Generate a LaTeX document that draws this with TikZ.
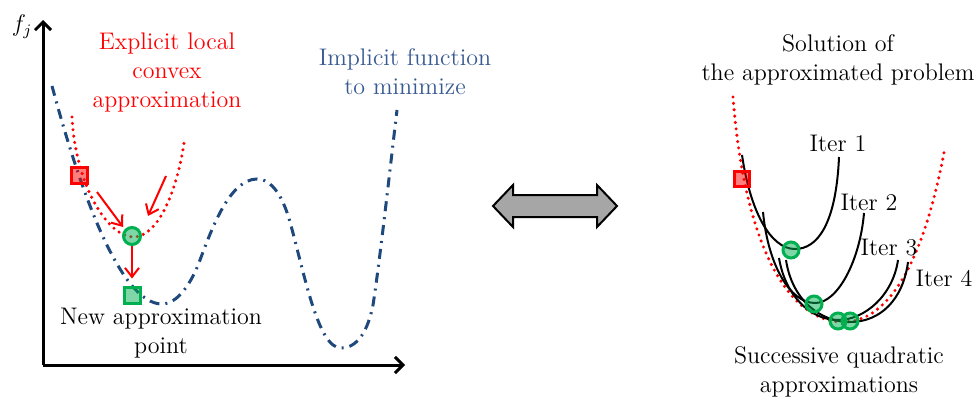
\documentclass[tikz,border=0pt]{standalone}
\usetikzlibrary{arrows.meta}
\definecolor{impblue}{RGB}{31,73,125}
\definecolor{imptext}{RGB}{55,90,145}
\definecolor{okgreen}{RGB}{0,176,80}
\begin{document}
\begin{tikzpicture}[x=0.5pt,y=-0.5pt,
  font=\fontsize{12}{14.5}\selectfont,
  axis/.style={line width=1.5pt,-{Straight Barb[length=4pt,width=8pt,line width=1.5pt]}},
  implicit/.style={impblue,line width=1.5pt,dash pattern=on 5pt off 3pt on 1pt off 3pt},
  approx/.style={red,line width=1.7pt,line cap=round,dash pattern=on 0pt off 3.2pt},
  iterc/.style={black,line width=1pt},
  redarrow/.style={red,line width=1pt,-{Straight Barb[length=4.5pt,width=7pt,line width=1pt]}},
  rsq/.style={draw=red,fill=red,fill opacity=0.5,line width=1.5pt,minimum size=8pt,inner sep=0pt,rectangle},
  gsq/.style={draw=okgreen,fill=okgreen,fill opacity=0.5,line width=1.5pt,minimum size=8pt,inner sep=0pt,rectangle},
  gcirc/.style={draw=okgreen,fill=okgreen,fill opacity=0.5,line width=1.5pt,minimum size=8.5pt,inner sep=0pt,circle},
  lbl/.style={align=center,inner sep=0pt}]
\useasboundingbox (0,0) rectangle (977,396);

% ---------- left panel ----------
\coordinate (origin) at (43,365);
\coordinate (ytop) at (43,20);
\coordinate (xend) at (405,365);
\draw[axis] (origin) -- (ytop);
\draw[axis] (origin) -- (xend);
\node[inner sep=0pt] (fj) at (22,27) {$f_j$};

\draw[implicit] (52,86) .. controls (80,190) and (120,304) .. (162,304)
  .. controls (178,304) and (192,282) .. (200,260)
  .. controls (212,228) and (230,179) .. (257,179)
  .. controls (272,179) and (283,197) .. (290,222)
  .. controls (305,276) and (318,348) .. (341,348)
  .. controls (358,348) and (368,330) .. (373,305)
  .. controls (380,260) and (391,160) .. (397,110);

\draw[approx] (72,117) .. controls (76,190) and (110,237) .. (133,237)
  .. controls (160,237) and (178,185) .. (184,143);

\node[lbl,red] (explicit) at (167,72) {Explicit local\\convex\\approximation};
\node[lbl,text=imptext] (implicitlbl) at (405,72) {Implicit function\\to minimize};
\node[lbl] (newpt) at (161,333) {New approximation\\point};

\node[rsq] (p0) at (79.5,175) {};
\node[gcirc] (c0) at (132,236) {};
\node[gsq] (p1) at (132,295) {};

\coordinate (a1s) at (97,192);
\coordinate (a1e) at (123,227);
\coordinate (a2s) at (166,176);
\coordinate (a2e) at (148,216);
\draw[redarrow] (a1s) -- (a1e);
\draw[redarrow] (a2s) -- (a2e);
\draw[redarrow,shorten >=3.5pt] (c0.south) -- (p1.north);

% ---------- double arrow ----------
\filldraw[fill=black!35,draw=black,line width=1pt]
  (493,206) -- (513,185) -- (513,195) -- (597,195) -- (597,185) -- (617,206)
  -- (597,227) -- (597,217) -- (513,217) -- (513,227) -- cycle;

% ---------- right panel ----------
\node[lbl] (solution) at (838,60) {Solution of\\the approximated problem};
\node[lbl] (successive) at (839,372) {Successive quadratic\\approximations};

\draw[approx] (733,97) .. controls (745,250) and (790,322) .. (843,322)
  .. controls (900,322) and (930,230) .. (945,147);

\draw[iterc] (742,155) .. controls (750,210) and (770,249) .. (795,249)
  .. controls (817,249) and (836,225) .. (839,157);
\draw[iterc] (763,212) .. controls (768,265) and (790,303) .. (815,303)
  .. controls (838,303) and (860,260) .. (864,213);
\draw[iterc] (779,258) .. controls (785,295) and (810,320) .. (838,320)
  .. controls (865,320) and (893,295) .. (898,260);
\draw[iterc] (786,260) .. controls (792,300) and (820,322) .. (850,322)
  .. controls (880,322) and (903,300) .. (908,262);

\node[inner sep=0pt] (it1) at (838,143) {Iter 1};
\node[inner sep=0pt] (it2) at (869,202) {Iter 2};
\node[inner sep=0pt] (it3) at (889,248) {Iter 3};
\node[inner sep=0pt] (it4) at (944,278) {Iter 4};

\node[rsq,minimum size=7.5pt] (q0) at (742,179) {};
\node[gcirc,minimum size=8pt] (g1) at (791,250) {};
\node[gcirc,minimum size=8pt] (g2) at (814,304) {};
\node[gcirc,minimum size=8pt] (g3) at (838,321) {};
\node[gcirc,minimum size=8pt] (g4) at (850,321) {};
\end{tikzpicture}
\end{document}
